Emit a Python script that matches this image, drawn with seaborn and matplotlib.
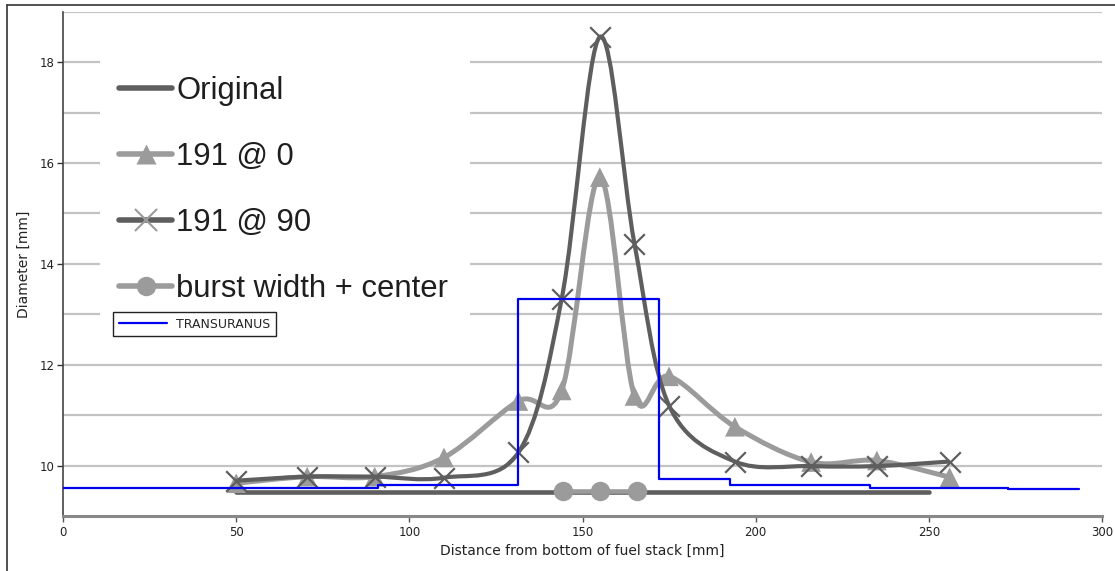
import numpy as np
import pandas as pd
import seaborn as sns
import matplotlib.pyplot as plt
from matplotlib.path import Path
from matplotlib.patches import PathPatch, Rectangle
from matplotlib.lines import Line2D

# positions along the fuel stack [mm]
dist = [50, 70.5, 90, 110, 131.5, 144, 155, 165, 175, 194, 216, 235, 256]
d191_0 = [9.65, 9.78, 9.78, 10.16, 11.28, 11.49, 15.72, 11.38, 11.77, 10.77, 10.07, 10.10, 9.77]
d191_90 = [9.70, 9.78, 9.78, 9.76, 10.26, 13.31, 18.50, 14.40, 11.19, 10.08, 9.99, 9.99, 10.08]

orig_x = [50, 250]
orig_y = [9.47, 9.47]

burst_x = [144.4, 155, 165.6]
burst_y = [9.49, 9.49, 9.49]

tu_x = [0, 91, 131.5, 172, 192.5, 233, 273, 293.5]
tu_y = [9.55, 9.62, 13.30, 9.735, 9.62, 9.56, 9.54, 9.54]

dark = "#5e5e5e"
light = "#9b9b9b"


def smooth_path(xs, ys):
    # excel-like smoothed line as cubic bezier segments
    p = np.column_stack([xs, ys])
    verts = [p[0]]
    codes = [Path.MOVETO]
    for i in range(len(p) - 1):
        p0 = p[i - 1] if i > 0 else p[i]
        p3 = p[i + 2] if i + 2 < len(p) else p[i + 1]
        verts += [p[i] + (p[i + 1] - p0) / 6, p[i + 1] - (p3 - p[i]) / 6, p[i + 1]]
        codes += [Path.CURVE4] * 3
    return Path(verts, codes)


sns.set_style("white")
plt.rcParams['font.family'] = ['DejaVu Sans']

fig = plt.figure(figsize=(11.15, 5.71), dpi=100)
ax = fig.add_axes([63 / 1115, 1 - 516 / 571, (1102 - 63) / 1115, (516 - 11.7) / 571])

df0 = pd.DataFrame({"x": dist, "y": d191_0})
df90 = pd.DataFrame({"x": dist, "y": d191_90})

# 191 @ 0
ax.add_patch(PathPatch(smooth_path(dist, d191_0), fill=False, edgecolor=light, lw=3.6, zorder=3))
sns.scatterplot(data=df0, x="x", y="y", marker="^", s=200, color=light, edgecolor="none", zorder=3.1, ax=ax)

# 191 @ 90
ax.add_patch(PathPatch(smooth_path(dist, d191_90), fill=False, edgecolor=dark, lw=3.0, zorder=4))
sns.scatterplot(data=df90, x="x", y="y", marker="x", s=220, color=dark, linewidth=1.6, zorder=4.1, ax=ax)

# original + burst
sns.lineplot(x=orig_x, y=orig_y, color=dark, lw=3.3, zorder=2, ax=ax)
sns.lineplot(x=burst_x, y=burst_y, color=light, lw=3.3, marker="o", markersize=14,
             markeredgecolor="none", zorder=2.5, ax=ax)

# TRANSURANUS
sns.lineplot(x=tu_x, y=tu_y, color="#0000ee", lw=1.6, drawstyle="steps-post", zorder=6, ax=ax)

ax.set_xlim(0, 300)
ax.set_ylim(9, 19)
ax.set_xticks(range(0, 301, 50))
ax.set_yticks([10, 12, 14, 16, 18])
ax.set_yticks([11, 13, 15, 17, 19], minor=True)
ax.grid(axis="y", which="both", color="#c3c3c3", lw=1.6)
ax.set_axisbelow(True)
ax.tick_params(axis="y", which="major", left=True, length=4, width=1, color="#333333",
               labelsize=8.5, labelcolor="#222222", pad=2)
ax.tick_params(axis="y", which="minor", left=False, length=0)
ax.tick_params(axis="x", bottom=True, length=4, width=1, color="#555555",
               labelsize=8.5, labelcolor="#222222", pad=3)
for s in ["top", "right"]:
    ax.spines[s].set_visible(False)
ax.spines["left"].set_color("#444444")
ax.spines["left"].set_linewidth(1.2)
ax.spines["bottom"].set_color("#888888")
ax.spines["bottom"].set_linewidth(2.2)

ax.set_xlabel("Distance from bottom of fuel stack [mm]", fontsize=10, color="#222222", labelpad=4)
ax.set_ylabel("Diameter [mm]", fontsize=10, color="#222222", labelpad=6)

# white panel behind the big legend
ax.add_patch(Rectangle((100 / 1115, 1 - 320 / 571), 370 / 1115, 290 / 571, transform=fig.transFigure,
                       facecolor="white", edgecolor="none", zorder=1.5))

handles = [
    Line2D([], [], color=dark, lw=4),
    Line2D([], [], color=light, lw=4, marker="^", ms=14, mec="none"),
    Line2D([], [], color=dark, lw=4, marker="x", ms=16, mec=light, mew=1.5),
    Line2D([], [], color=light, lw=4, marker="o", ms=14, mec="none"),
]
labels = ["Original", "191 @ 0", "191 @ 90", "burst width + center"]
leg1 = ax.legend(handles, labels, loc="upper left", bbox_to_anchor=(113 / 1115, 1 - 70 / 571),
                 bbox_transform=fig.transFigure, frameon=False, borderpad=0.2, borderaxespad=0,
                 handlelength=1.7, handletextpad=0.15, labelspacing=1.16,
                 prop={"family": ["Liberation Sans", "DejaVu Sans"], "size": 22.3})
for t in leg1.get_texts():
    t.set_color("#1e1e1e")
ax.add_artist(leg1)

leg2 = ax.legend([Line2D([], [], color="#0000ee", lw=1.6)], ["TRANSURANUS"], loc="upper left",
                 bbox_to_anchor=(113 / 1115, 1 - 312 / 571), bbox_transform=fig.transFigure,
                 fancybox=False, edgecolor="#222222", framealpha=1, borderpad=0.45, borderaxespad=0,
                 handlelength=3.9, handletextpad=0.7, fontsize=9)
leg2.get_frame().set_linewidth(1.0)

# screenshot frame lines on top and left
fig.add_artist(Line2D([7 / 1115, 1], [1 - 5 / 571, 1 - 5 / 571], transform=fig.transFigure, color="#333333", lw=1.2))
fig.add_artist(Line2D([7 / 1115, 7 / 1115], [0, 1 - 5 / 571], transform=fig.transFigure, color="#333333", lw=1.2))

fig.savefig("out.png", dpi=100)
